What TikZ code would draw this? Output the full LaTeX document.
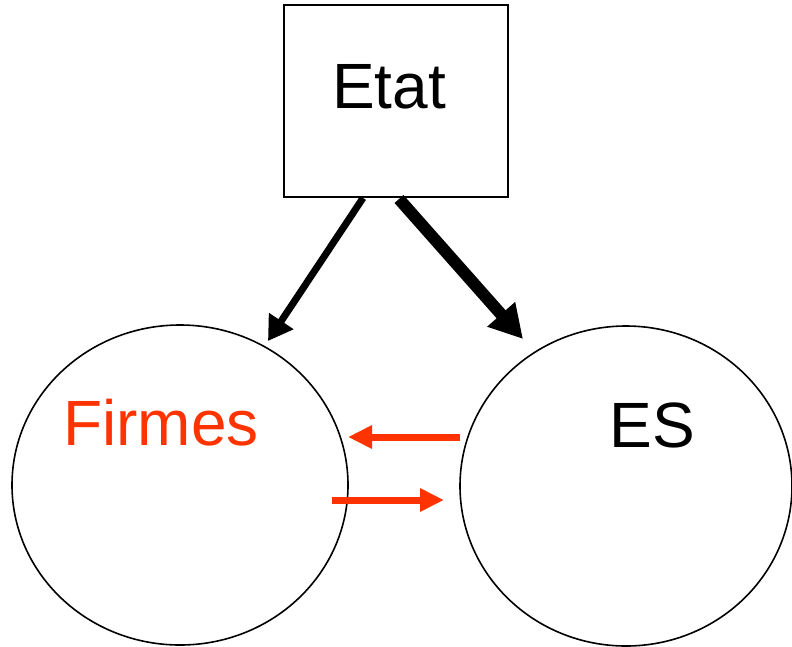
\documentclass[tikz,border=0pt]{standalone}
\usepackage{fontspec}
\setmainfont{Liberation Sans}
\usetikzlibrary{arrows.meta}
\definecolor{redor}{HTML}{FF3300}
\begin{document}
\begin{tikzpicture}[x=1pt,y=-1pt,
  lbl/.style={font=\fontsize{64}{72}\selectfont, inner sep=0pt},
  circ/.style={draw=black, line width=1.6pt},
  blackarrow/.style={draw=black, line width=7pt, -{Triangle[length=24pt,width=28pt]}},
  thickarrow/.style={draw=black, line width=12pt, -{Triangle[length=33pt,width=35pt]}},
  redarrow/.style={draw=redor, line width=7pt, -{Triangle[length=24pt,width=22pt]}}]
\useasboundingbox (0,0) rectangle (792,646);
\node[draw=black, line width=1.6pt, minimum width=224pt, minimum height=192pt, inner sep=0pt] (etat) at (396,101) {};
\node[lbl] at (389,87) {Etat};
\draw[circ] (180,485) ellipse [x radius=168, y radius=160];
\draw[circ] (626,486) ellipse [x radius=166, y radius=160];
\node[lbl, text=redor] (firmes) at (161,423) {Firmes};
\node[lbl] (es) at (652,425) {ES};
\coordinate (a1s) at (363,198);
\coordinate (a1e) at (268,341);
\coordinate (a2s) at (399,199);
\coordinate (a2e) at (523,339);
\draw[blackarrow] (a1s) -- (a1e);
\draw[thickarrow] (a2s) -- (a2e);
\coordinate (r1s) at (460,437);
\coordinate (r1e) at (348,437);
\coordinate (r2s) at (332,500);
\coordinate (r2e) at (444,500);
\draw[redarrow] (r1s) -- (r1e);
\draw[redarrow] (r2s) -- (r2e);
\end{tikzpicture}
\end{document}
